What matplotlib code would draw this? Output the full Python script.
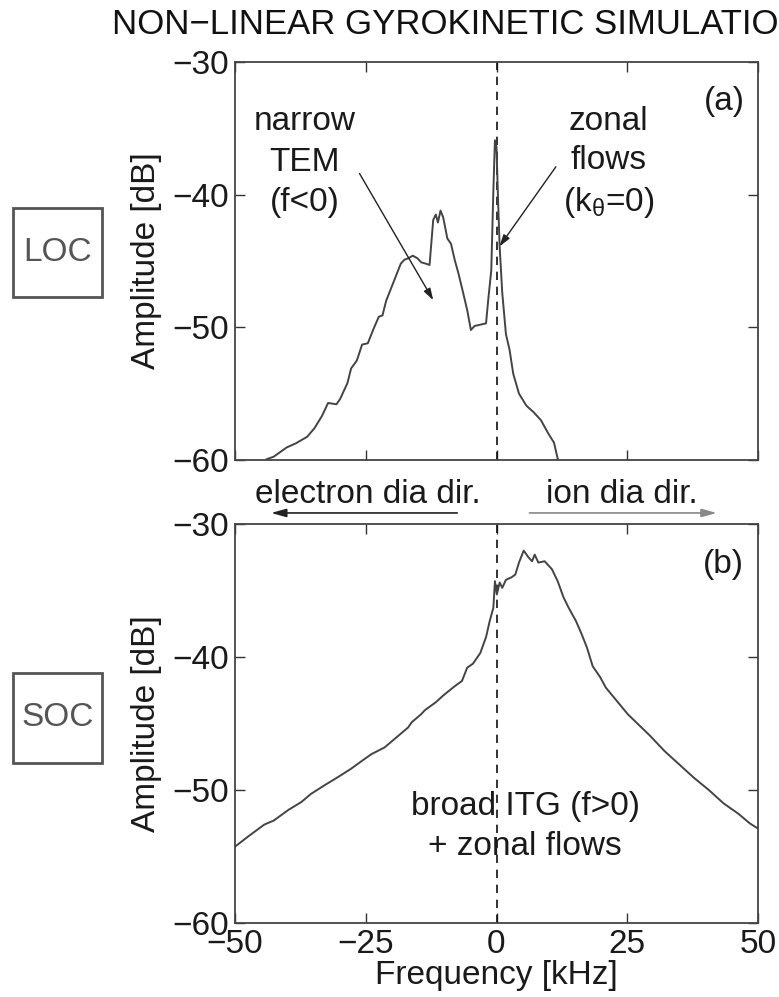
import matplotlib
matplotlib.use("Agg")
import matplotlib.pyplot as plt
from matplotlib.patches import Rectangle

plt.rcParams['font.family'] = ['Liberation Sans', 'DejaVu Sans']
plt.rcParams['mathtext.fontset'] = 'custom'
plt.rcParams['mathtext.rm'] = 'Liberation Sans'
plt.rcParams['mathtext.it'] = 'Liberation Sans'

# (a) LOC spectrum: frequency [kHz], amplitude [dB]
freq_loc = [-44.0, -42.6, -40.1, -38.4, -36.2, -34.8, -33.4, -32.2, -30.6, -29.9,
            -28.5, -27.8, -26.7, -25.7, -24.6, -23.6, -22.5, -21.8, -21.1, -20.0,
            -19.0, -18.3, -17.6, -16.9, -16.0, -15.1, -14.4, -13.5, -12.8, -12.1,
            -11.6, -11.2, -10.7, -10.2, -9.4, -8.7, -8.0, -7.3, -6.5, -5.6,
            -4.9, -4.2, -3.1, -2.0, -1.6, -1.0, -0.6, -0.3, 0.0, 0.3,
            0.6, 1.1, 1.8, 2.5, 3.2, 4.3, 5.7, 7.1, 8.5, 9.9,
            11.0, 11.7, 12.1]
amp_loc = [-59.95, -59.75, -59.05, -58.75, -58.25, -57.6, -56.7, -55.7, -55.8, -55.4,
           -54.2, -53.1, -52.5, -51.3, -51.2, -50.2, -49.2, -49.1, -48.0, -46.9,
           -45.9, -45.2, -44.9, -44.8, -44.6, -44.8, -45.1, -45.2, -45.3, -41.9,
           -41.5, -42.1, -41.2, -41.7, -43.3, -43.7, -44.9, -45.9, -47.2, -48.7,
           -50.2, -49.9, -49.8, -49.7, -48.0, -45.7, -39.7, -35.9, -36.4, -40.4,
           -43.9, -47.4, -50.5, -51.7, -53.5, -55.0, -55.9, -56.4, -57.0, -58.0,
           -58.7, -59.9, -60.4]

# (b) SOC spectrum
freq_soc = [-50.0, -47.5, -44.4, -42.6, -39.8, -37.3, -35.5, -32.7, -30.6, -27.8,
            -25.7, -23.9, -21.4, -19.0, -16.9, -16.2, -14.4, -13.7, -11.6, -10.2,
            -8.0, -6.6, -5.6, -4.5, -3.1, -2.0, -1.3, -0.6, -0.3, 0.07,
            0.6, 1.1, 1.8, 2.9, 3.6, 4.3, 5.2, 6.1, 6.8, 7.3,
            8.0, 9.2, 10.6, 11.7, 12.8, 13.8, 15.2, 16.3, 17.3, 18.4,
            19.8, 20.9, 23.0, 25.1, 27.2, 29.3, 32.2, 35.0, 37.8, 40.6,
            43.4, 46.3, 48.4, 50.0]
amp_soc = [-54.26, -53.5, -52.6, -52.3, -51.5, -50.9, -50.3, -49.6, -49.1, -48.4,
           -47.8, -47.3, -46.8, -46.0, -45.3, -44.9, -44.3, -44.0, -43.4, -42.9,
           -42.2, -41.8, -40.8, -40.5, -39.7, -38.5, -37.3, -36.3, -34.3, -35.3,
           -34.4, -34.8, -34.2, -34.0, -33.8, -32.9, -32.0, -32.5, -32.8, -32.3,
           -32.9, -32.8, -33.4, -34.3, -35.5, -36.3, -37.3, -38.3, -39.3, -40.7,
           -41.5, -42.3, -43.3, -44.3, -45.1, -45.9, -47.1, -48.1, -49.1, -50.0,
           -51.0, -51.8, -52.5, -52.9]

xticks = [-50, -25, 0, 25, 50]
yticks = [-30, -40, -50, -60]
ytick_labels = ['\u221230', '\u221240', '\u221250', '\u221260']
xtick_labels = ['\u221250', '\u221225', '0', '25', '50']

W, H = 779, 997
fig = plt.figure(figsize=(W / 100, H / 100), dpi=100)

line_col = '#444444'
text_col = '#1a1a1a'
fs = 24

ax1 = fig.add_axes([235 / W, 1 - 460 / H, 523 / W, 398 / H])
ax2 = fig.add_axes([235 / W, 1 - 923 / H, 523 / W, 399 / H])

for ax in (ax1, ax2):
    ax.set_xlim(-50, 50)
    ax.set_ylim(-60, -30)
    ax.set_xticks(xticks)
    ax.set_yticks(yticks)
    ax.set_yticklabels(ytick_labels)
    ax.tick_params(direction='in', top=True, right=True, length=7, width=1.0,
                   color='#333333', labelsize=fs, labelcolor=text_col, pad=4)
    for s in ax.spines.values():
        s.set_linewidth(1.3)
        s.set_color('#444444')
    ax.axvline(0, color='#111111', lw=1.2, ls=(0, (5, 4)))
    ax.set_ylabel('Amplitude [dB]', fontsize=fs, color=text_col, labelpad=8)

ax1.set_xticklabels([])
ax2.set_xticklabels(xtick_labels)
ax2.set_xlabel('Frequency [kHz]', fontsize=fs, color=text_col, labelpad=0)

ax1.plot(freq_loc, amp_loc, color=line_col, lw=1.4)
ax2.plot(freq_soc, amp_soc, color=line_col, lw=1.4)

# panel (a) annotations
for txt, yb in [('narrow', -35.1), ('TEM', -38.2), ('(f<0)', -41.2)]:
    ax1.text(-36.7, yb, txt, fontsize=fs, color=text_col, ha='center', va='baseline')
for txt, yb in [('zonal', -35.1), ('flows', -38.1), (r'(k$_{\mathrm{\theta}}$=0)', -41.2)]:
    ax1.text(21.4, yb, txt, fontsize=fs, color=text_col, ha='center', va='baseline')
arrow_kw = dict(arrowstyle='-|>,head_length=0.7,head_width=0.22', color='#222222',
                lw=1.0, shrinkA=0, shrinkB=0)
ax1.annotate('', xy=(-12.1, -47.95), xytext=(-26.2, -38.4), arrowprops=arrow_kw)
ax1.annotate('', xy=(0.57, -43.9), xytext=(11.35, -37.9), arrowprops=arrow_kw)
ax1.text(43.6, -33.0, '(a)', fontsize=fs, color=text_col, ha='center', va='center')

# panel (b) annotations
ax2.text(43.4, -33.05, '(b)', fontsize=fs, color=text_col, ha='center', va='center')
ax2.text(5.5, -51.9, 'broad ITG (f>0)', fontsize=fs, color=text_col, ha='center', va='baseline')
ax2.text(5.5, -54.9, '+ zonal flows', fontsize=fs, color=text_col, ha='center', va='baseline')

# drift direction arrows between panels
ax2.text(-24.6, -28.42, 'electron dia dir.', fontsize=fs, color=text_col,
         ha='center', va='baseline', clip_on=False)
ax2.text(24.0, -28.42, 'ion dia dir.', fontsize=fs, color=text_col,
         ha='center', va='baseline', clip_on=False)
ax2.annotate('', xy=(-43.1, -29.17), xytext=(-7.5, -29.17), annotation_clip=False,
             arrowprops=dict(arrowstyle='-|>,head_length=0.9,head_width=0.25',
                             color='#222222', lw=1.2, shrinkA=0, shrinkB=0))
ax2.annotate('', xy=(42.1, -29.17), xytext=(6.3, -29.17), annotation_clip=False,
             arrowprops=dict(arrowstyle='-|>,head_length=0.9,head_width=0.25',
                             color='#888888', lw=1.2, shrinkA=0, shrinkB=0))

# title, clipped by the right edge
fig.text(112 / W, 1 - 24.5 / H, 'NON\u2212LINEAR GYROKINETIC SIMULATIONS', fontsize=25,
         color='#111111', ha='left', va='center')

# regime boxes
for label, y0, y1 in [('LOC', 208, 297), ('SOC', 673, 763)]:
    fig.patches.append(Rectangle((13 / W, 1 - y1 / H), 89 / W, (y1 - y0) / H,
                                 transform=fig.transFigure, fill=False,
                                 edgecolor='#555555', lw=2.0))
    fig.text(57.5 / W, 1 - (y0 + y1) / 2 / H, label, fontsize=fs, color='#555555',
             ha='center', va='center')

fig.savefig('out.png', dpi=100)
